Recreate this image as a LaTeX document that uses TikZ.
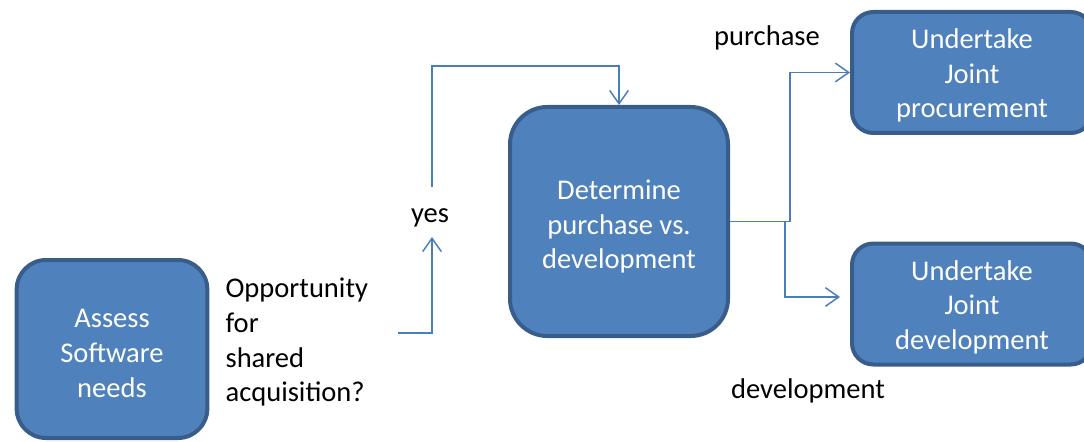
\documentclass[tikz,border=0pt]{standalone}
\usepackage{fontspec}
\setmainfont{Carlito}
\usepackage{tikz}
\usetikzlibrary{arrows.meta,positioning}
\usepackage{xcolor}
\definecolor{officeblue}{RGB}{79,129,189}
\definecolor{officedark}{RGB}{56,93,138}
\definecolor{linkblue}{RGB}{74,126,187}
\tikzstyle{arrow} = [line width=1.1pt,-{Straight Barb[length=10pt,width=14pt]},color=linkblue]
\tikzstyle{stepbox} = [rectangle, align=center, draw=officedark, fill=officeblue, line width=3pt, text=white, inner sep=0pt, text height=68pt, text depth=0pt]
\tikzstyle{plain} = [text=black, inner sep=0pt]

\begin{document}
\begin{tikzpicture}[
    x=0.75pt, y=-0.75pt,
    every node/.style={font=\fontsize{21.4}{26}\selectfont}
]

\useasboundingbox (0,0) rectangle (1084,442);

% Process boxes
\node[stepbox, minimum width=143pt, minimum height=133.5pt, rounded corners=22pt, text height=72pt] (assess) at (112,349) {Assess\\Software\\needs};
\node[stepbox, minimum width=163.5pt, minimum height=171.75pt, rounded corners=28pt, text height=71pt] (determine) at (619,221.5) {Determine\\purchase vs.\\development};
\node[stepbox, minimum width=180pt, minimum height=90.75pt, rounded corners=16pt] (procure) at (972,72.5) {Undertake\\Joint\\procurement};
\node[stepbox, minimum width=180pt, minimum height=90.75pt, rounded corners=16pt] (develop) at (972,304) {Undertake\\Joint\\development};

% Labels
\node[plain, align=left, right=12pt of assess, yshift=5pt] (question) {Opportunity\\for\\shared\\acquisition?};
\node[plain] (yes) at (430,218) {yes};
\node[plain] (purchase) at (767,38) {purchase};
\node[plain] (development) at (808,391) {development};

% Free ends
\coordinate (ask) at (398,333);
\coordinate (yesin) at (432,237);
\coordinate (yesout) at (432,187);

% Connections
\draw[arrow] (ask) -| (yesin);
\draw[arrow] (yesout) -- ++(0,-121) -| (determine.north);
\draw[arrow] (determine.east) -- ++(60,0) |- (procure.west);
\draw[arrow] (determine.east) -- ++(55,0) |- ([shift={(-10,-7)}]develop.west);

\end{tikzpicture}
\end{document}
